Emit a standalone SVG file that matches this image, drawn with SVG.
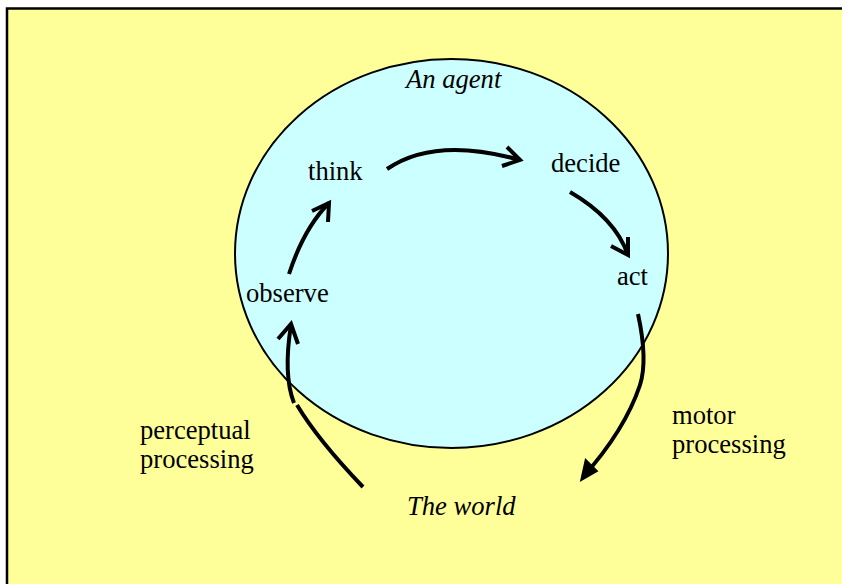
<svg xmlns="http://www.w3.org/2000/svg" width="842" height="584" viewBox="0 0 842 584">
<style>
.t{font-family:"Liberation Serif","Times New Roman",serif;font-size:26.6px;fill:#000}
.i{font-style:italic}
.c{fill:none;stroke:#000;stroke-width:4;stroke-linecap:butt;stroke-linejoin:miter}
</style>
<rect x="0" y="0" width="842" height="584" fill="#fff"/>
<rect x="7" y="8.5" width="850" height="600" fill="#FFFF99" stroke="#000" stroke-width="2.5"/>
<g id="agent">
<ellipse cx="451.5" cy="253.5" rx="216.5" ry="194.5" fill="#CCFFFF" stroke="#000" stroke-width="2"/>
<text class="t i" x="406" y="88">An agent</text>
</g>
<g id="think"><text class="t" x="308" y="180">think</text></g>
<g id="decide"><text class="t" x="551" y="172">decide</text></g>
<g id="act"><text class="t" x="617" y="285">act</text></g>
<g id="observe"><text class="t" x="246" y="302">observe</text></g>
<g id="world"><text class="t i" x="407" y="515">The world</text></g>
<g id="perceptual"><text class="t" x="140" y="439">perceptual</text><text class="t" x="140" y="468">processing</text></g>
<g id="motor"><text class="t" x="672" y="424">motor</text><text class="t" x="672" y="453">processing</text></g>
<g id="connectors">
<path class="c" d="M289,274 Q304,228 329,203"/>
<path class="c" d="M312,211 L329,203 L328,222"/>
<path class="c" d="M387,169 Q435,136 520,160"/>
<path class="c" d="M507,147 L520,160 L502,166"/>
<path class="c" d="M570,192 Q615,218 628,255"/>
<path class="c" d="M611,246 L628,255 L628,237"/>
<path class="c" d="M363,487 Q318,440 297,405"/>
<path class="c" d="M294,403 Q283,375 291,325"/>
<path class="c" d="M278,339 L291,324 L298,344"/>
<path class="c" d="M638,314 Q648,360 640,385 Q625,430 583,477"/>
<path d="M582,479 L586,461 L596,471 Z" fill="#000" stroke="#000" stroke-width="3" stroke-linejoin="miter"/>
</g>
</svg>
